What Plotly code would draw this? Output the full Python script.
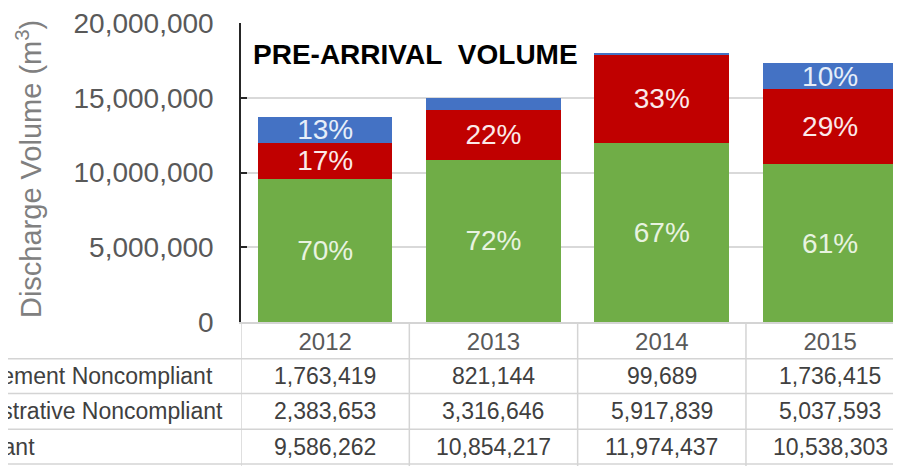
import plotly.graph_objects as go

# ---------------- data ----------------
years = ["2012", "2013", "2014", "2015"]
management_nc = [1763419, 821144, 99689, 1736415]
administrative_nc = [2383653, 3316646, 5917839, 5037593]
compliant = [9586262, 10854217, 11974437, 10538303]

row_labels = ["Management Noncompliant", "Administrative Noncompliant", "Compliant"]
y_ticks = [0, 5000000, 10000000, 15000000, 20000000]

# ---------------- layout constants (page pixels; page has an 8px body margin) ----------------
OFF = 8
PAGE_W, PAGE_H = 901, 466
W, H = PAGE_W - OFF, PAGE_H - OFF
PLOT_L, PLOT_R, PLOT_T, PLOT_B = 241, 901, 21, 322
ML = PLOT_L - OFF
MT = PLOT_T - OFF
MR = PAGE_W - PLOT_R
MB = PAGE_H - PLOT_B
PW, PH = PLOT_R - PLOT_L, PLOT_B - PLOT_T
FONT = "Liberation Sans, Arial, Helvetica, sans-serif"

def px_x(px):
    return (px - PLOT_L) / PW

def px_y(py):
    return (PLOT_B - py) / PH

totals = [a + b + c for a, b, c in zip(management_nc, administrative_nc, compliant)]

def pct_text(vals):
    out = []
    for v, t in zip(vals, totals):
        p = v / t * 100
        out.append(f"{p:.0f}%" if p >= 8 else "")
    return out

series = [
    ("Compliant", compliant, "#70AD47", "#E8F3E0"),
    ("Administrative Noncompliant", administrative_nc, "#C00000", "#FBE9E9"),
    ("Management Noncompliant", management_nc, "#4472C4", "#E6EEF9"),
]

fig = go.Figure()
for name, vals, col, tcol in series:
    fig.add_trace(go.Bar(
        x=years, y=vals, name=name,
        marker=dict(color=col, line=dict(width=0)),
        text=pct_text(vals), textposition="inside", insidetextanchor="middle",
        constraintext="none", cliponaxis=False,
        textfont=dict(family=FONT, size=28, color=tcol),
        hoverinfo="skip",
    ))

annotations = []
# title inside plot
annotations.append(dict(
    text="<b>PRE-ARRIVAL\u00a0 VOLUME</b>", xref="paper", yref="paper",
    x=px_x(251), y=px_y(53), xanchor="left", yanchor="middle", showarrow=False,
    font=dict(family=FONT, size=28, color="#000000"),
))
# y axis title
annotations.append(dict(
    text="Discharge Volume (m<sup>3</sup>)", xref="paper", yref="paper",
    x=px_x(29), y=px_y(168), xanchor="center", yanchor="middle", textangle=-90,
    showarrow=False, font=dict(family=FONT, size=29, color="#808080"),
))

# data table
row_centers = [376, 412, 448]
row_data = [management_nc, administrative_nc, compliant]
for label, vals, yc in zip(row_labels, row_data, row_centers):
    annotations.append(dict(
        text=label, xref="paper", yref="paper", x=px_x(-71), y=px_y(yc),
        xanchor="left", yanchor="middle", showarrow=False,
        font=dict(family=FONT, size=23, color="#404040"),
    ))
    for i, v in enumerate(vals):
        annotations.append(dict(
            text=f"{v:,}", xref="x", yref="paper", x=i, y=px_y(yc),
            xanchor="center", yanchor="middle", showarrow=False,
            font=dict(family=FONT, size=23, color="#404040"),
        ))

shapes = []
grid_col = "#D4D4D4"
for py in [359, 394, 430, 465]:
    shapes.append(dict(type="line", xref="paper", yref="paper",
                       x0=px_x(-5), x1=px_x(PAGE_W + 5), y0=px_y(py), y1=px_y(py),
                       line=dict(color=grid_col, width=1.5)))
for i in range(len(years) + 1):
    shapes.append(dict(type="line", xref="x", yref="paper",
                       x0=i - 0.5, x1=i - 0.5, y0=0, y1=px_y(PAGE_H + 5),
                       line=dict(color=grid_col, width=1.5)))

fig.update_layout(
    width=W, height=H, barmode="stack", bargap=0.2,
    margin=dict(l=ML, r=MR, t=MT, b=MB, pad=0),
    paper_bgcolor="white", plot_bgcolor="white",
    showlegend=False,
    annotations=annotations, shapes=shapes,
    font=dict(family=FONT),
    xaxis=dict(
        type="category", range=[-0.5, 3.421], showgrid=False,
        showline=True, linecolor=grid_col, linewidth=1.5,
        ticks="", tickfont=dict(family=FONT, size=24, color="#595959"),
        ticklabelstandoff=-3, fixedrange=True,
    ),
    yaxis=dict(
        range=[0, 20000000], tickvals=y_ticks, tickformat=",d",
        showgrid=True, gridcolor="#D9D9D9", gridwidth=1.5,
        showline=True, linecolor="#262626", linewidth=1.5,
        ticks="inside", ticklen=6, tickcolor="#262626", tickwidth=1.5,
        tickfont=dict(family=FONT, size=28, color="#595959"),
        ticklabelstandoff=20, ticklabeloverflow="allow",
        zeroline=False, fixedrange=True,
    ),
)

fig.write_html("out.html")
